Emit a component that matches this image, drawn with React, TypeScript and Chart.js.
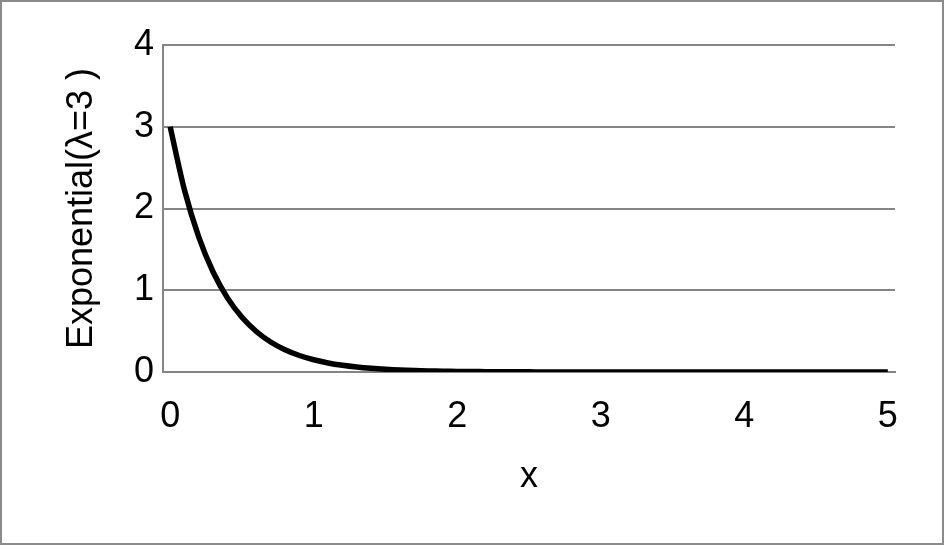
import React, { useEffect, useRef } from "react";
import { Chart, registerables } from "chart.js";

Chart.register(...registerables);

const categories: string[] = [
  "0", "0.1", "0.2", "0.3", "0.4", "0.5", "0.6", "0.7", "0.8", "0.9",
  "1", "1.1", "1.2", "1.3", "1.4", "1.5", "1.6", "1.7", "1.8", "1.9",
  "2", "2.1", "2.2", "2.3", "2.4", "2.5", "2.6", "2.7", "2.8", "2.9",
  "3", "3.1", "3.2", "3.3", "3.4", "3.5", "3.6", "3.7", "3.8", "3.9",
  "4", "4.1", "4.2", "4.3", "4.4", "4.5", "4.6", "4.7", "4.8", "4.9",
  "5",
];

const density: number[] = [
  3.0, 2.2225, 1.6464, 1.2197, 0.9036, 0.6694, 0.4959, 0.3674, 0.2722, 0.2016,
  0.1494, 0.1106, 0.082, 0.0607, 0.045, 0.0333, 0.0247, 0.0183, 0.0136, 0.01,
  0.0074, 0.0055, 0.0041, 0.003, 0.0022, 0.0017, 0.0012, 0.0009, 0.0007, 0.0005,
  0.0004, 0.0003, 0.0002, 0.0002, 0.0001, 0.0001, 0.0001, 0.0001, 0.0, 0.0,
  0.0, 0.0, 0.0, 0.0, 0.0, 0.0, 0.0, 0.0, 0.0, 0.0,
  0.0,
];

const shownXTicks: string[] = ["0", "1", "2", "3", "4", "5"];
const xTitle = "x";
const yTitle = "Exponential(λ=3 )";

export default function App() {
  const ref = useRef<HTMLCanvasElement | null>(null);
  useEffect(() => {
    document.body.style.margin = "0";
    const ctx = ref.current!;
    const font = "'Liberation Sans', Arial, sans-serif";
    const grey = "#858585";
    const fs = 36;
    const chart = new Chart(ctx, {
      type: "line",
      data: {
        labels: categories,
        datasets: [
          {
            data: density,
            borderColor: "#000000",
            borderWidth: 5.5,
            pointRadius: 0,
            tension: 0.3,
            fill: false,
          },
        ],
      },
      options: {
        animation: false,
        responsive: false,
        layout: { padding: { top: 45, right: 49, left: 0, bottom: 0 } },
        plugins: { legend: { display: false }, tooltip: { enabled: false } },
        scales: {
          x: {
            type: "category",
            offset: true,
            grid: { display: false, drawTicks: false },
            border: { display: true, color: grey, width: 2 },
            ticks: {
              autoSkip: false,
              maxRotation: 0,
              padding: 23,
              color: "#000",
              font: { family: font, size: fs },
              callback: function (_v: any, i: number) {
                const l = categories[i];
                return shownXTicks.includes(l) ? l : "";
              },
            },
            title: {
              display: true,
              text: xTitle,
              color: "#000",
              font: { family: font, size: fs },
              padding: { top: 0, bottom: 46 },
            },
            afterFit: (s: any) => {
              s.height = 545 - 372;
            },
          },
          y: {
            min: 0,
            max: 4,
            grid: { color: grey, lineWidth: 2, drawTicks: false },
            border: { display: true, color: grey, width: 2 },
            ticks: {
              stepSize: 1,
              padding: 9,
              color: "#000",
              font: { family: font, size: fs },
            },
            title: {
              display: true,
              text: yTitle,
              color: "#000",
              font: { family: font, size: fs },
              padding: { top: 60, bottom: 0 },
            },
            afterFit: (s: any) => {
              s.width = 163;
            },
          },
        },
      },
    } as any);
    return () => chart.destroy();
  }, []);
  return (
    <div
      style={{
        position: "absolute",
        left: 0,
        top: 0,
        width: 944,
        height: 545,
        boxSizing: "border-box",
        border: "2px solid #8a8a8a",
        background: "#fff",
      }}
    >
      <canvas
        ref={ref}
        width={944}
        height={545}
        style={{ position: "absolute", left: -2, top: -2, width: 944, height: 545 }}
      />
    </div>
  );
}
